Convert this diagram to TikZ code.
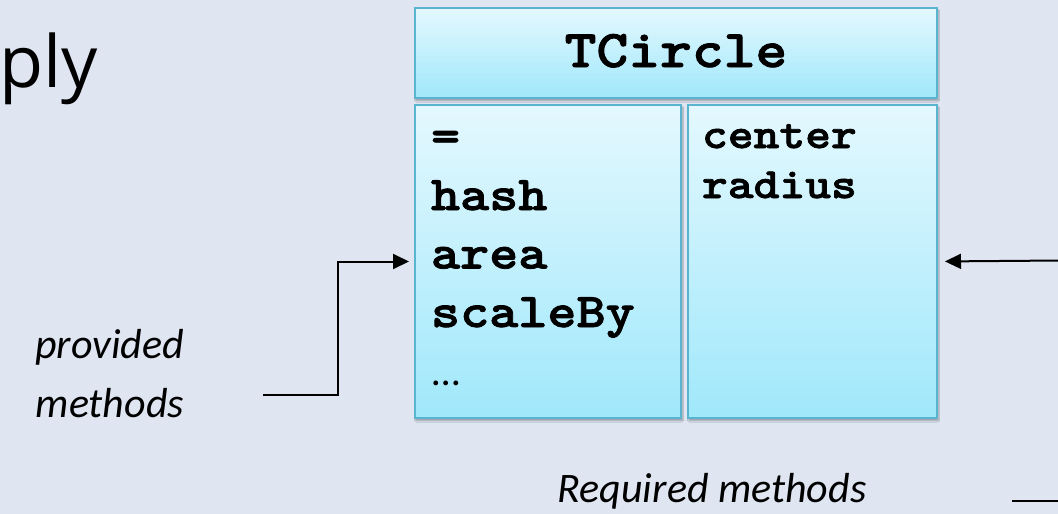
\documentclass[tikz,border=0pt]{standalone}
\usepackage{fontspec}
\usetikzlibrary{arrows.meta,shadows.blur}
\newfontfamily\titlefont{Open Sans}
\newfontfamily\codefont{lmmonolt10-bold.otf}[FakeStretch=1.143,FakeBold=1.6]
\newfontfamily\notefont{Carlito}
\definecolor{bg}{HTML}{DFE6F2}
\definecolor{boxtop}{HTML}{E4F8FE}
\definecolor{boxbot}{HTML}{A0E8FB}
\definecolor{boxline}{HTML}{5AB4CE}
\begin{document}
\begin{tikzpicture}[x=1pt,y=-1pt,
  panel/.style={rectangle, draw=boxline, line width=2pt, inner sep=0pt,
    top color=boxtop, bottom color=boxbot,
    blur shadow={shadow xshift=1pt, shadow yshift=-2.5pt,
      shadow blur steps=6, shadow opacity=35}},
  txt/.style={inner sep=0pt, outer sep=0pt, text=black},
  headtxt/.style={txt, font=\codefont\fontsize{53}{60}\selectfont},
  lefttxt/.style={txt, anchor=base west, font=\codefont\fontsize{48.5}{58}\selectfont},
  righttxt/.style={txt, anchor=base west, font=\codefont\fontsize{43}{50}\selectfont},
  note/.style={txt, font=\notefont\itshape\fontsize{42}{50}\selectfont},
  conn/.style={line width=2pt, black},
  tip/.style={-{Triangle[length=16pt,width=15pt]}}
]
% canvas
\fill[bg] (0,0) rectangle (1058,514);
\useasboundingbox (0,0) rectangle (1058,514);

% title fragment
\node[txt, anchor=base west, font=\titlefont\fontsize{72}{80}\selectfont] (title) at (-1,87) {ply};

% class box: name band and the two member columns
\node[panel, minimum width=522pt, minimum height=90pt] (head) at (676,53) {};
\node[panel, minimum width=266pt, minimum height=313pt] (leftbox) at (548,261.5) {};
\node[panel, minimum width=249pt, minimum height=313pt] (rightbox) at (812.5,261.5) {};

\node[headtxt, anchor=base] (name) at (676,67) {TCircle};

\node[lefttxt] (m1) at (431,151.5) {=};
\node[lefttxt] (m2) at (431,210) {hash};
\node[lefttxt] (m3) at (431,268.5) {area};
\node[lefttxt] (m4) at (431,327) {scaleBy};
\node[txt, anchor=base west, font=\notefont\fontsize{40}{48}\selectfont] (m5) at (432,385) {…};

\node[righttxt] (r1) at (702,148) {center};
\node[righttxt] (r2) at (702,198) {radius};

% captions
\node[note, anchor=base east] (prov1) at (184,358) {provided};
\node[note, anchor=base east] (prov2) at (184,417) {methods};
\node[note, anchor=base] (req) at (712,502) {Required methods};

% connectors
\coordinate (pstart) at (263,395);
\coordinate (pbend) at (338,395);
\draw[conn, tip, shorten >=5pt] (pstart) -- (pbend) |- (leftbox.west);

\coordinate (rstart) at (1060,260.5);
\draw[conn, tip, shorten >=7pt] (rstart) -- (rightbox.east);

\coordinate (bstart) at (1012,501);
\coordinate (bend) at (1060,501);
\draw[conn] (bstart) -- (bend);
\end{tikzpicture}
\end{document}
